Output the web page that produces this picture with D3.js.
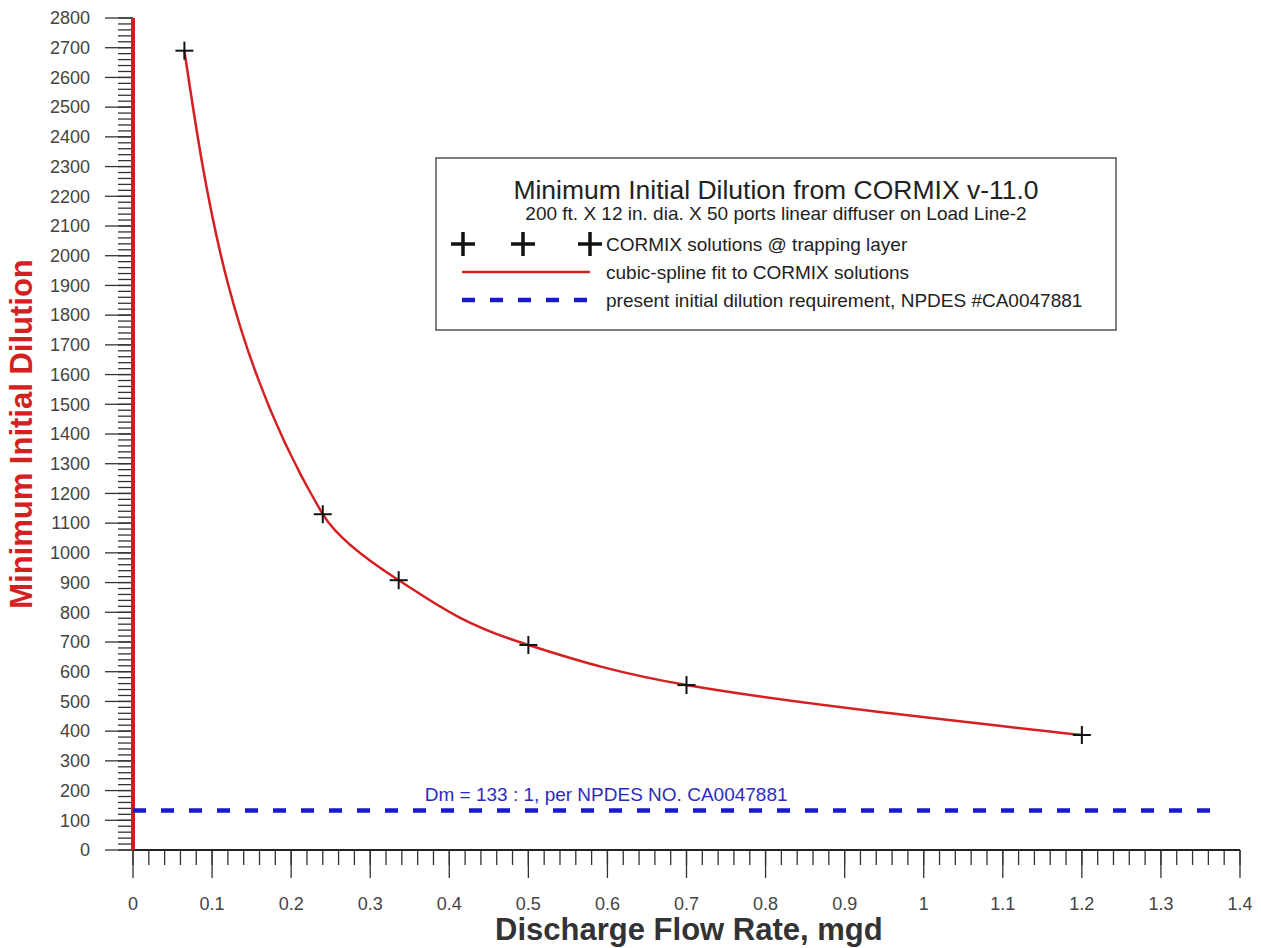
<!DOCTYPE html>
<html>
<head>
<meta charset="utf-8">
<script src="https://cdn.jsdelivr.net/npm/d3@7"></script>
<style>
  body { margin: 0; background: #fff; }
  text { font-family: "Liberation Sans", Arial, sans-serif; }
</style>
</head>
<body>
<div id="chart"></div>
<script>
// CORMIX solutions
const flowRates = [0.065, 0.24, 0.336, 0.5, 0.7, 1.2];
const dilutions = [2690, 1130, 908, 690, 555, 387];
const requirement = 133;

const xTicks = [0, 0.1, 0.2, 0.3, 0.4, 0.5, 0.6, 0.7, 0.8, 0.9, 1, 1.1, 1.2, 1.3, 1.4];
const yTicks = d3.range(0, 2801, 100);

const legendTitle = "Minimum Initial Dilution from CORMIX v-11.0";
const legendSub = "200 ft. X 12 in. dia. X 50 ports linear diffuser on Load Line-2";
const legendLabels = [
    "CORMIX solutions @ trapping layer",
    "cubic-spline fit to CORMIX solutions",
    "present initial dilution requirement, NPDES #CA0047881"
];
const dmLabel = "Dm = 133 : 1, per NPDES NO. CA0047881";

const width = 1261, height = 948;
const margin = { top: 18, right: 21, bottom: 98, left: 133 };
const innerW = width - margin.left - margin.right;
const innerH = height - margin.top - margin.bottom;

const svg = d3.select("#chart").append("svg")
    .attr("width", width).attr("height", height);
const g = svg.append("g").attr("transform", `translate(${margin.left},${margin.top})`);

const x = d3.scaleLinear().domain([0, 1.4]).range([0, innerW]);
const y = d3.scaleLinear().domain([0, 2800]).range([innerH, 0]);

// x axis: minor ticks every 0.02, major every 0.1
const xMinor = d3.range(0, 1.4001, 0.02);
g.append("g").selectAll("line").data(xMinor).enter().append("line")
    .attr("x1", d => x(d)).attr("x2", d => x(d))
    .attr("y1", innerH).attr("y2", innerH + 15)
    .attr("stroke", "#333").attr("stroke-width", 1.3);
g.append("g").selectAll("line").data(xTicks).enter().append("line")
    .attr("x1", d => x(d)).attr("x2", d => x(d))
    .attr("y1", innerH).attr("y2", innerH + 28)
    .attr("stroke", "#333").attr("stroke-width", 1.3);
g.append("g").selectAll("text").data(xTicks).enter().append("text")
    .attr("x", d => x(d)).attr("y", innerH + 60)
    .attr("text-anchor", "middle")
    .style("font-size", "18px").style("fill", "#444")
    .text(d => d3.format("~g")(d));
g.append("line")
    .attr("x1", 0).attr("x2", innerW).attr("y1", innerH).attr("y2", innerH)
    .attr("stroke", "#222").attr("stroke-width", 2);

// y axis: minor ticks every 20, major every 100
const yMinor = d3.range(0, 2801, 20);
g.append("g").selectAll("line").data(yMinor).enter().append("line")
    .attr("x1", -15).attr("x2", 0)
    .attr("y1", d => y(d)).attr("y2", d => y(d))
    .attr("stroke", "#333").attr("stroke-width", 1.3);
g.append("g").selectAll("line").data(yTicks).enter().append("line")
    .attr("x1", -28).attr("x2", 0)
    .attr("y1", d => y(d)).attr("y2", d => y(d))
    .attr("stroke", "#333").attr("stroke-width", 1.3);
g.append("g").selectAll("text").data(yTicks).enter().append("text")
    .attr("x", -43).attr("y", d => y(d)).attr("dy", "0.35em")
    .attr("text-anchor", "end")
    .style("font-size", "18px").style("fill", "#444")
    .text(d => d);
g.append("line")
    .attr("x1", 0).attr("x2", 0).attr("y1", 0).attr("y2", innerH)
    .attr("stroke", "#cc1f1f").attr("stroke-width", 4);

// axis titles
svg.append("text")
    .attr("x", margin.left + x(0.703)).attr("y", 940)
    .attr("text-anchor", "middle")
    .style("font-size", "31px").style("font-weight", "bold").style("fill", "#333")
    .text("Discharge Flow Rate, mgd");
svg.append("text")
    .attr("transform", `translate(32,${margin.top + y(1400)}) rotate(-90)`)
    .attr("text-anchor", "middle")
    .style("font-size", "31px").style("font-weight", "bold").style("fill", "#d42020")
    .text("Minimum Initial Dilution");

// requirement line
g.append("line")
    .attr("x1", x(0)).attr("x2", x(1.38))
    .attr("y1", y(requirement)).attr("y2", y(requirement))
    .attr("stroke", "#1a1acc").attr("stroke-width", 4.5)
    .attr("stroke-dasharray", "13 15");
g.append("text")
    .attr("x", x(0.369)).attr("y", y(requirement) - 9)
    .style("font-size", "19px").style("fill", "#2b2bc0")
    .text(dmLabel);

// spline fit
const pts = flowRates.map((f, i) => [f, dilutions[i]]);
const line = d3.line().x(d => x(d[0])).y(d => y(d[1])).curve(d3.curveMonotoneY);
g.append("path").datum(pts)
    .attr("d", line)
    .attr("fill", "none").attr("stroke", "#d42020").attr("stroke-width", 2.5);

// plus markers
const plus = g.append("g").selectAll("g").data(pts).enter().append("g")
    .attr("transform", d => `translate(${x(d[0])},${y(d[1])})`);
plus.append("line").attr("x1", -9).attr("x2", 9).attr("stroke", "#111").attr("stroke-width", 2);
plus.append("line").attr("y1", -9).attr("y2", 9).attr("stroke", "#111").attr("stroke-width", 2);

// legend
const lg = svg.append("g").attr("transform", "translate(436,158)");
lg.append("rect").attr("width", 680).attr("height", 172)
    .attr("fill", "#fff").attr("stroke", "#555").attr("stroke-width", 1.5);
lg.append("text").attr("x", 340).attr("y", 41).attr("text-anchor", "middle")
    .style("font-size", "26.5px").style("fill", "#222").text(legendTitle);
lg.append("text").attr("x", 340).attr("y", 62).attr("text-anchor", "middle")
    .style("font-size", "19px").style("fill", "#222").text(legendSub);

const rowY = [86, 114, 142];
[27, 87, 154].forEach(px => {
    const m = lg.append("g").attr("transform", `translate(${px},${rowY[0]})`);
    m.append("line").attr("x1", -12).attr("x2", 12).attr("stroke", "#111").attr("stroke-width", 3.5);
    m.append("line").attr("y1", -12).attr("y2", 12).attr("stroke", "#111").attr("stroke-width", 3.5);
});
lg.append("line").attr("x1", 26).attr("x2", 154).attr("y1", rowY[1]).attr("y2", rowY[1])
    .attr("stroke", "#d42020").attr("stroke-width", 2.5);
lg.append("line").attr("x1", 26).attr("x2", 154).attr("y1", rowY[2]).attr("y2", rowY[2])
    .attr("stroke", "#1a1acc").attr("stroke-width", 4.5).attr("stroke-dasharray", "13 15");
lg.selectAll("text.lab").data(legendLabels).enter().append("text")
    .attr("class", "lab")
    .attr("x", 170).attr("y", (d, i) => rowY[i]).attr("dy", "0.35em")
    .style("font-size", "19px").style("fill", "#222")
    .text(d => d);
</script>
</body>
</html>
